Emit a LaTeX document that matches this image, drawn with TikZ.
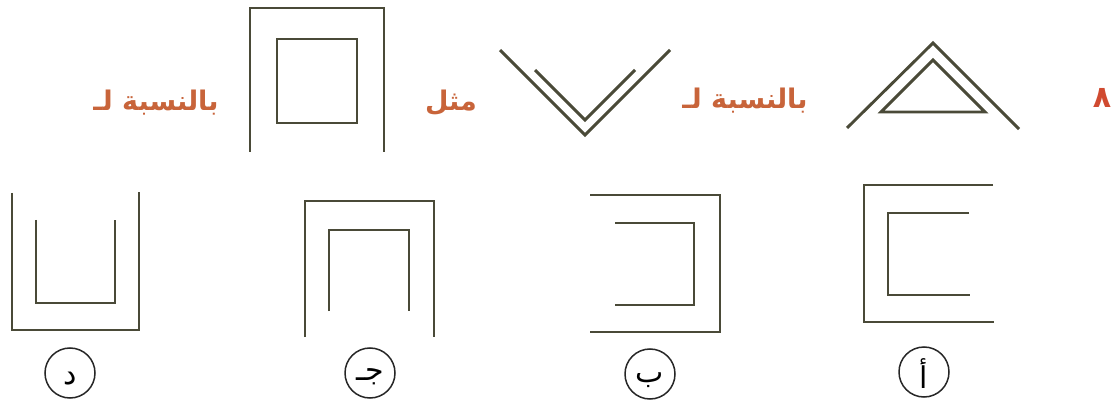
\documentclass[tikz,border=0pt]{standalone}
\usepackage{fontspec}
\newfontfamily\arabicfont[Script=Arabic]{DejaVu Sans}
\TeXXeTstate=1
\definecolor{shapecol}{HTML}{4A4A38}
\definecolor{txtcol}{HTML}{C8643A}
\definecolor{numcol}{HTML}{D04A30}
\begin{document}
\begin{tikzpicture}[x=1pt,y=-1pt,
  fig/.style={draw=shapecol,line width=2.9pt},
  lbl/.style={text=txtcol,font=\arabicfont\bfseries\fontsize{27}{30}\selectfont,inner sep=0pt},
  opt/.style={circle,draw=black!85,line width=1.5pt,minimum size=50pt,inner sep=0pt},
  optlbl/.style={inner sep=0pt,font=\arabicfont\fontsize{30}{32}\selectfont}]
\useasboundingbox[fill=white] (0,0) rectangle (1114,406);
% question number and text row
\node[lbl,text=numcol,font=\arabicfont\bfseries\fontsize{30}{32}\selectfont] (num) at (1102,98) {\beginR ٨\endR};
\node[lbl] (txtR) at (745,101) {\beginR بالنسبة لـ\endR};
\node[lbl] (txtM) at (451,103) {\beginR مثل\endR};
\node[lbl] (txtL) at (156,103) {\beginR بالنسبة لـ\endR};
% top figures
\draw[fig] (847,128) -- (933,43) -- (1019,129);
\draw[fig] (933,60) -- (881,112) -- (985,112) -- cycle;
\draw[fig] (500,50) -- (585,135) -- (670,50);
\draw[fig] (535,70) -- (585,120) -- (635,70);
\draw[fig] (250,152) -- (250,8) -- (384,8) -- (384,152);
\draw[fig] (277,39) rectangle (357,123);
% options
\draw[fig] (993,185) -- (864,185) -- (864,322) -- (994,322);
\draw[fig] (969,213) -- (888,213) -- (888,295) -- (970,295);
\draw[fig] (590,195) -- (720,195) -- (720,332) -- (590,332);
\draw[fig] (615,223) -- (694,223) -- (694,305) -- (615,305);
\draw[fig] (305,337) -- (305,201) -- (434,201) -- (434,337);
\draw[fig] (329,311) -- (329,230) -- (409,230) -- (409,311);
\draw[fig] (12,193) -- (12,330) -- (139,330) -- (139,192);
\draw[fig] (36,220) -- (36,303) -- (115,303) -- (115,220);
% option circles and letters
\node[opt] (a) at (924,372) {};
\node[opt] (b) at (650,374) {};
\node[opt] (c) at (370,373) {};
\node[opt] (d) at (70,373) {};
\node[optlbl] (al) at ([yshift=-2pt]a.center) {\beginR أ\endR};
\node[optlbl] (bl) at ([yshift=-6pt]b.center) {\beginR ب\endR};
\node[optlbl] (cl) at ([yshift=-4pt]c.center) {\beginR جـ\endR};
\node[optlbl] (dl) at ([yshift=-6pt]d.center) {\beginR د\endR};
\end{tikzpicture}
\end{document}
